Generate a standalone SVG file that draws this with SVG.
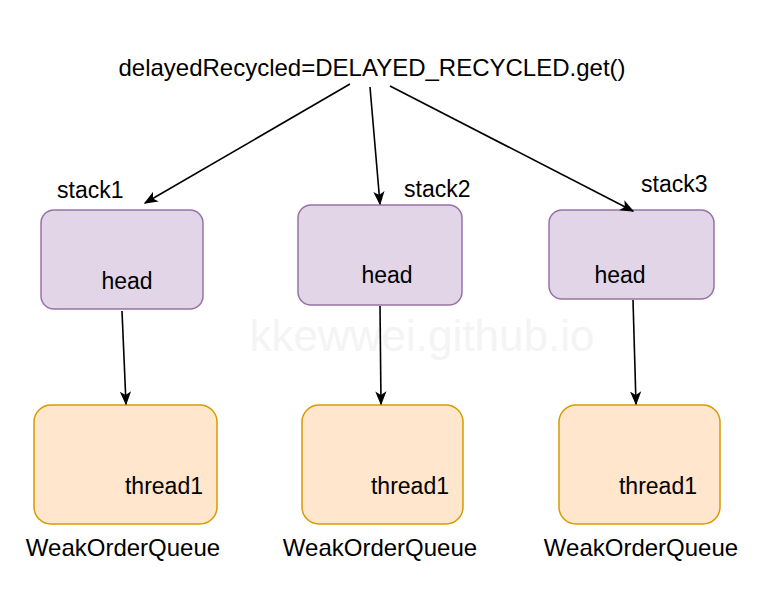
<svg xmlns="http://www.w3.org/2000/svg" width="770" height="602" viewBox="0 0 770 602">
<style>
text{font-family:"Liberation Sans",Arial,Helvetica,sans-serif;fill:#000}
.stack{fill:#e1d5e7;stroke:#9673a6;stroke-width:1.5}
.queue{fill:#ffe6cc;stroke:#d79b00;stroke-width:1.5}
.lbl{font-size:23px}
.big{font-size:24px}
.edge{stroke:#000;stroke-width:1.6;fill:none;marker-end:url(#arr)}
.wm{font-size:44px;fill:#f4f4f4}
</style>
<defs>
<marker id="arr" viewBox="0 0 10 10" refX="9" refY="5" markerWidth="14" markerHeight="14" markerUnits="userSpaceOnUse" orient="auto">
<path d="M0,1 L10,5 L0,9 L2.5,5 Z" fill="#000"/>
</marker>
</defs>
<rect width="770" height="602" fill="#fff"/>
<text class="wm" x="422" y="351" text-anchor="middle">kkewwei.github.io</text>
<g id="title"><text class="big" x="372" y="76" text-anchor="middle">delayedRecycled=DELAYED_RECYCLED.get()</text></g>
<g id="stack1"><rect class="stack" x="41" y="210" width="162" height="99" rx="13"/><text class="lbl" x="127" y="289" text-anchor="middle">head</text><text class="lbl" x="57" y="198">stack1</text></g>
<g id="stack2"><rect class="stack" x="298" y="205" width="164" height="100" rx="13"/><text class="lbl" x="387" y="283" text-anchor="middle">head</text><text class="lbl" x="404" y="197">stack2</text></g>
<g id="stack3"><rect class="stack" x="549" y="210" width="165" height="89" rx="13"/><text class="lbl" x="620" y="283" text-anchor="middle">head</text><text class="lbl" x="641" y="192">stack3</text></g>
<g id="queue1"><rect class="queue" x="34" y="405" width="183" height="119" rx="17"/><text class="lbl" x="203" y="494" text-anchor="end">thread1</text><text class="big" x="123" y="556" text-anchor="middle">WeakOrderQueue</text></g>
<g id="queue2"><rect class="queue" x="302" y="405" width="161" height="119" rx="17"/><text class="lbl" x="449" y="494" text-anchor="end">thread1</text><text class="big" x="380" y="556" text-anchor="middle">WeakOrderQueue</text></g>
<g id="queue3"><rect class="queue" x="559" y="405" width="161" height="119" rx="17"/><text class="lbl" x="697" y="494" text-anchor="end">thread1</text><text class="big" x="641" y="556" text-anchor="middle">WeakOrderQueue</text></g>
<g id="connectors">
<line class="edge" x1="350" y1="84" x2="145" y2="203"/>
<line class="edge" x1="370" y1="87" x2="380" y2="204"/>
<line class="edge" x1="390" y1="86" x2="633" y2="211"/>
<line class="edge" x1="122" y1="311" x2="126" y2="404"/>
<line class="edge" x1="380" y1="306" x2="381" y2="404"/>
<line class="edge" x1="633" y1="300" x2="636" y2="404"/>
</g>
</svg>
